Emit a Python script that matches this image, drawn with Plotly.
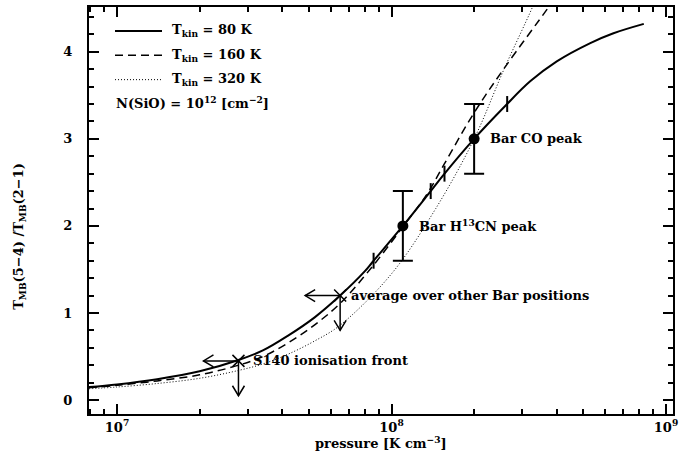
import numpy as np
import plotly.graph_objects as go

# ---------------- data ----------------
# model curves: pressure [K cm^-3] vs line ratio T_MB(5-4)/T_MB(2-1)
p_80 = [7.9e6, 1.0e7, 1.4e7, 2.0e7, 2.77e7, 3.4e7, 4.2e7, 5.25e7, 6.5e7, 8.0e7, 8.5e7, 1.1e8,
        1.35e8, 1.55e8, 2.0e8, 2.6e8, 3.2e8, 4.0e8, 5.3e8, 6.4e8, 8.3e8]
r_80 = [0.15, 0.18, 0.24, 0.33, 0.46, 0.57, 0.74, 0.95, 1.20, 1.48, 1.58, 2.0,
        2.35, 2.59, 3.0, 3.38, 3.66, 3.89, 4.10, 4.21, 4.32]

p_160 = [7.9e6, 1.0e7, 1.4e7, 2.0e7, 2.77e7, 3.4e7, 4.2e7, 5.25e7, 6.5e7, 8.5e7, 1.1e8,
         1.35e8, 1.55e8, 2.0e8, 2.6e8, 3.73e8, 4.0e8]
r_160 = [0.14, 0.17, 0.22, 0.29, 0.40, 0.50, 0.656, 0.864, 1.11, 1.53, 1.99,
         2.37, 2.70, 3.30, 3.83, 4.51, 4.65]

p_320 = [7.9e6, 1.0e7, 1.4e7, 2.0e7, 2.77e7, 3.4e7, 4.2e7, 5.25e7, 6.5e7, 1.0e8, 1.45e8,
         2.0e8, 2.57e8, 3.26e8, 3.5e8]
r_320 = [0.13, 0.15, 0.19, 0.25, 0.34, 0.415, 0.527, 0.679, 0.86, 1.45, 2.2,
         3.0, 3.8, 4.51, 4.75]

curve_names = ["T<sub>kin</sub> = 80 K", "T<sub>kin</sub> = 160 K", "T<sub>kin</sub> = 320 K"]
column_note = "N(SiO) = 10<sup>12</sup> [cm<sup>−2</sup>]"

# measured ratios with error bars
obs_names = ["Bar H<sup>13</sup>CN peak", "Bar CO peak"]
obs_p = [1.1e8, 2.0e8]
obs_ratio = [2.0, 3.0]
obs_err = [0.4, 0.4]

# upper limits
lim_names = ["average over other Bar positions", "S140 ionisation front"]
lim_p = [6.5e7, 2.77e7]
lim_ratio = [1.2, 0.45]

x_ticks = [1e7, 1e8, 1e9]
x_ticklabels = ["10<sup>7</sup>", "10<sup>8</sup>", "10<sup>9</sup>"]
y_ticks = [0, 1, 2, 3, 4]

# ---------------- layout geometry ----------------
W, H = 691, 452
ML, MR, MT, MB = 89, 18, 5, 38
XR = [6.898, 9.0255]   # log10 range
YR = [-0.16, 4.514]
pw, ph = W - ML - MR, H - MT - MB
px_dex = pw / (XR[1] - XR[0])
px_y = ph / (YR[1] - YR[0])

FONT = "DejaVu Serif"
FS = 13
fig = go.Figure()

line_styles = [dict(color="black", width=2),
               dict(color="black", width=1.5, dash="8px,5px"),
               dict(color="black", width=1, dash="1px,2px")]
for (p, r), st in zip([(p_80, r_80), (p_160, r_160), (p_320, r_320)], line_styles):
    fig.add_trace(go.Scatter(x=p, y=r, mode="lines", line=dict(shape="spline", smoothing=1.0, **st),
                             showlegend=False, hoverinfo="skip"))

# tick marks on the 80 K curve where it meets the error-bar limits
lp80 = np.log10(p_80)
for r0, e in zip(obs_ratio, obs_err):
    for lev in (r0 - e, r0 + e):
        lp = np.interp(lev, r_80, lp80)
        hl = 8 / px_y
        fig.add_trace(go.Scatter(x=[10**lp, 10**lp], y=[lev - hl, lev + hl], mode="lines",
                                 line=dict(color="black", width=2), showlegend=False, hoverinfo="skip"))

# observed points
fig.add_trace(go.Scatter(x=obs_p, y=obs_ratio, mode="markers",
                         marker=dict(color="black", size=11, symbol="circle"),
                         error_y=dict(type="data", array=obs_err, width=10, thickness=2, color="black"),
                         showlegend=False, hoverinfo="skip"))

# upper limits: cross + arrows left and down
alen = 35
for p, r in zip(lim_p, lim_ratio):
    lp = np.log10(p)
    xl = lp - alen / px_dex
    yd = r - alen / px_y
    hx, hy = 10 / px_dex, 6 / px_y
    xs = [10**lp, 10**xl, None, 10**(xl + hx), 10**xl, 10**(xl + hx)]
    ys = [r, r, None, r + hy, r, r - hy]
    vx_l, vx_r = 10**(lp - 6 / px_dex), 10**(lp + 6 / px_dex)
    xs += [None, p, p, None, vx_l, p, vx_r]
    ys += [None, r, yd, None, yd + 10 / px_y, yd, yd + 10 / px_y]
    fig.add_trace(go.Scatter(x=xs, y=ys, mode="lines", line=dict(color="black", width=1.5),
                             showlegend=False, hoverinfo="skip"))
    fig.add_trace(go.Scatter(x=[p], y=[r], mode="markers",
                             marker=dict(symbol="x-thin", size=12, line=dict(color="black", width=1.5)),
                             showlegend=False, hoverinfo="skip"))

ann = []
tf = dict(family=FONT, size=FS, color="black", weight="bold")
for name, p, r in zip(obs_names, obs_p, obs_ratio):
    ann.append(dict(x=np.log10(p), y=r, text=name, showarrow=False, xanchor="left",
                    yanchor="middle", xshift=14, font=tf))
for name, p, r, sh in zip(lim_names, lim_p, lim_ratio, [9, 13]):
    ann.append(dict(x=np.log10(p), y=r, text=name, showarrow=False, xanchor="left",
                    yanchor="middle", xshift=sh, font=tf))

# manual legend (inside top-left)
def px2paper(xp, yp):
    return (xp - ML) / pw, (H - MB - yp) / ph

shapes = []
dashes = ["solid", "8px,5px", "1px,2px"]
widths = [2, 1.5, 1]
for i, (name, d, w) in enumerate(zip(curve_names, dashes, widths)):
    yp = 29 + 24.5 * i
    x0, y0 = px2paper(115, yp)
    x1, _ = px2paper(162, yp)
    shapes.append(dict(type="line", xref="paper", yref="paper", x0=x0, x1=x1, y0=y0, y1=y0,
                       line=dict(color="black", width=w, dash=d)))
    tx, _ = px2paper(170, yp)
    ann.append(dict(xref="paper", yref="paper", x=tx, y=y0, text=name, showarrow=False,
                    xanchor="left", yanchor="middle", font=tf))
nx, ny = px2paper(114, 101)
ann.append(dict(xref="paper", yref="paper", x=nx, y=ny, text=column_note, showarrow=False,
                xanchor="left", yanchor="middle", font=tf))

# axis titles
tx, ty = px2paper(20, 236)
ann.append(dict(xref="paper", yref="paper", x=tx, y=ty, textangle=-90,
                text="T<sub>MB</sub>(5−4) /T<sub>MB</sub>(2−1)", showarrow=False,
                xanchor="center", yanchor="middle", font=tf))
tx, ty = px2paper(381, 443)
ann.append(dict(xref="paper", yref="paper", x=tx, y=ty, text="pressure [K cm<sup>−3</sup>]",
                showarrow=False, xanchor="center", yanchor="middle", font=tf))

minor_x = [m * 10**e for e in (6, 7, 8) for m in range(2, 10)]
tickfont = dict(family=FONT, size=13, color="black", weight="bold")
fig.update_layout(
    width=W, height=H, margin=dict(l=ML, r=MR, t=MT, b=MB),
    plot_bgcolor="white", paper_bgcolor="white",
    shapes=shapes, annotations=ann, showlegend=False,
    xaxis=dict(type="log", range=XR, tickvals=x_ticks, ticktext=x_ticklabels,
               ticks="inside", ticklen=10, tickwidth=1.5, tickcolor="black",
               showline=True, linewidth=2, linecolor="black", mirror="ticks",
               showgrid=False, zeroline=False, tickfont=tickfont,
               ticklabelstandoff=0,
               minor=dict(tickmode="array", tickvals=minor_x, ticks="inside", ticklen=5,
                          tickwidth=1.5, tickcolor="black", showgrid=False)),
    yaxis=dict(range=YR, tickvals=y_ticks, ticks="inside", ticklen=10, tickwidth=1.5,
               tickcolor="black", showline=True, linewidth=2, linecolor="black", mirror="ticks",
               showgrid=False, zeroline=False, tickfont=tickfont,
               ticklabelstandoff=12,
               minor=dict(dtick=0.2, ticks="inside", ticklen=5, tickwidth=1.5, tickcolor="black",
                          showgrid=False)),
)

fig.write_html("out.html")
